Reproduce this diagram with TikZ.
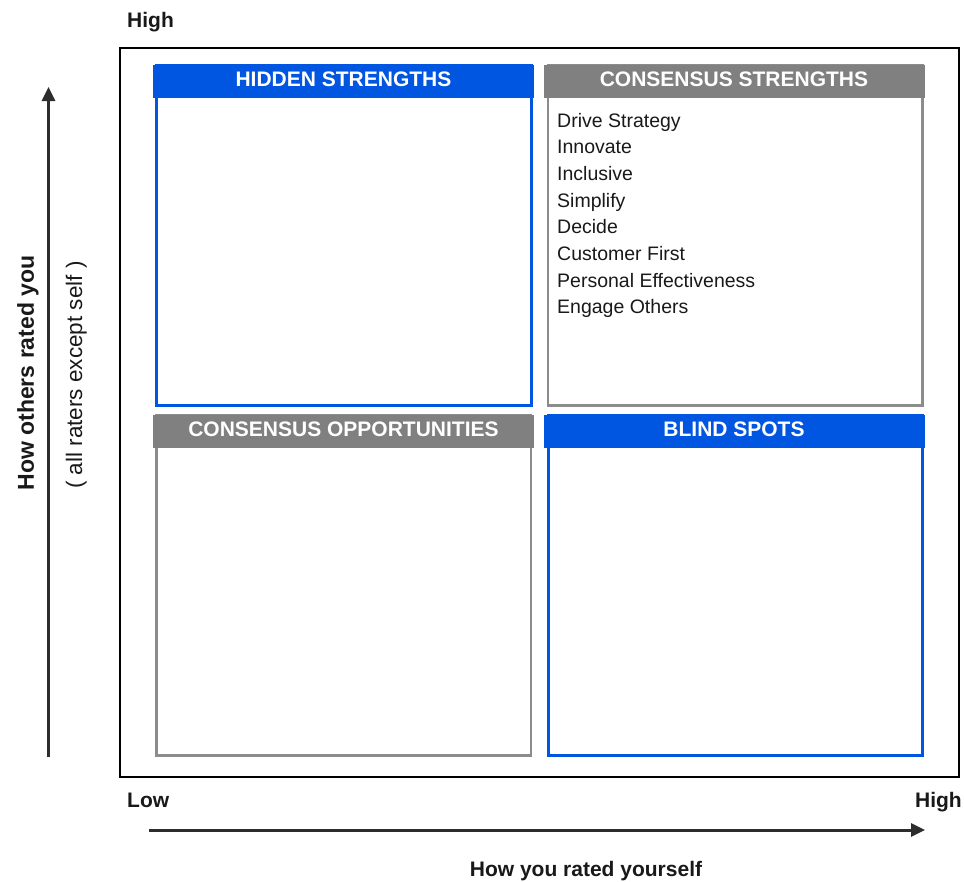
\documentclass[tikz,border=0pt]{standalone}
\usepackage{fontspec}
\setmainfont{Liberation Sans}
\usetikzlibrary{arrows.meta}
\definecolor{qblue}{RGB}{0,86,224}
\definecolor{qgray}{RGB}{128,128,128}
\definecolor{qline}{RGB}{140,140,140}
\definecolor{qarrow}{RGB}{45,45,45}
\begin{document}
\begin{tikzpicture}[x=1pt,y=-1pt,
  quadbox/.style={draw=#1, fill=white, rectangle, inner sep=0pt, outer sep=0pt,
    anchor=north west, minimum width=374.5pt, minimum height=340.5pt},
  bluebox/.style={quadbox=qblue, line width=3pt},
  graybox/.style={quadbox=qline, line width=2.4pt},
  header/.style={fill=#1, draw=none, rectangle, inner sep=0pt, outer sep=0pt,
    anchor=north west, minimum width=381pt, minimum height=33pt,
    text=white, text height=15pt, text depth=6pt,
    font=\fontsize{21}{25}\selectfont\bfseries},
  item/.style={anchor=base west, inner sep=0pt,
    font=\fontsize{19.5}{24}\selectfont, text=black!90},
  axislbl/.style={inner sep=0pt, font=\fontsize{21}{25}\selectfont\bfseries, text=black!90},
  axisarrow/.style={line width=3pt, draw=qarrow,
    -{Triangle[length=14pt,width=13pt]}}]
\useasboundingbox (0,0) rectangle (964,881);

% outer frame
\node[draw=black, line width=1.3pt, rectangle, inner sep=0pt, outer sep=0pt,
  anchor=north west, minimum width=839pt, minimum height=729pt] (frame) at (120,48) {};

% quadrant boxes
\node[bluebox] (hiddenbox) at (156.5,65) {};
\node[graybox] (strengthbox) at (548,65) {};
\node[graybox] (oppbox) at (156.5,415) {};
\node[bluebox] (blindbox) at (548,415) {};

% quadrant headers
\node[header=qblue] (hidden) at (153,65) {HIDDEN STRENGTHS};
\node[header=qgray] (strength) at (543.5,65) {CONSENSUS STRENGTHS};
\node[header=qgray] (opp) at (153,415) {CONSENSUS OPPORTUNITIES};
\node[header=qblue] (blind) at (543.5,415) {BLIND SPOTS};

% consensus strengths list
\foreach \t [count=\i from 0] in {Drive Strategy, Innovate, Inclusive, Simplify,
    Decide, Customer First, Personal Effectiveness, Engage Others}
  \node[item] (item\i) at (557,127+26.7*\i) {\t};

% axes
\coordinate (ybottom) at (48.5,757);
\coordinate (ytop) at (48.5,87);
\coordinate (xleft) at (149,830);
\coordinate (xright) at (925,830);
\draw[axisarrow] (ybottom) -- (ytop);
\draw[axisarrow] (xleft) -- (xright);

% axis labels
\node[axislbl, anchor=base west] (yhigh) at (127,27) {High};
\node[axislbl, anchor=base west] (xlow) at (127,807) {Low};
\node[axislbl, anchor=base east] (xhigh) at (962,807) {High};
\node[axislbl, anchor=base] (xtitle) at (586,876) {How you rated yourself};
\node[axislbl, rotate=90, anchor=base, font=\fontsize{23}{27}\selectfont\bfseries]
  (ytitle) at (34,373) {How others rated you};
\node[inner sep=0pt, rotate=90, anchor=base, text=black!90,
  font=\fontsize{22.5}{27}\selectfont] (ysub) at (82,375) {( all raters except self )};
\end{tikzpicture}
\end{document}
